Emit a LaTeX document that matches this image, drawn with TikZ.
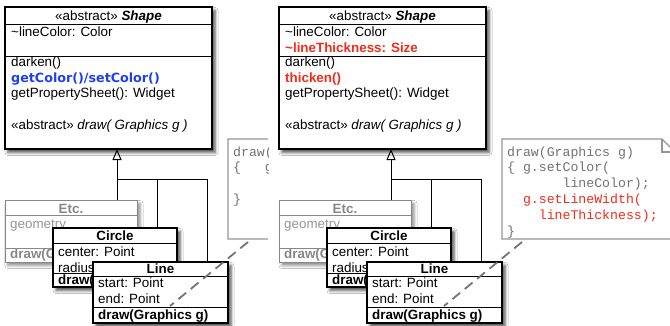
\documentclass[tikz,border=0pt]{standalone}
\usepackage{fontspec}
\setmainfont{Liberation Sans}
\newfontfamily\monof{Liberation Mono}
\newfontfamily\verd{DejaVu Sans}
\usetikzlibrary{arrows.meta,calc,shadows.blur}
\definecolor{umlblue}{RGB}{30,64,240}
\definecolor{umlred}{RGB}{240,45,25}
\definecolor{etcgray}{RGB}{135,135,135}
\definecolor{etclight}{RGB}{150,150,150}
\definecolor{notegray}{RGB}{150,150,150}
\definecolor{codegray}{RGB}{115,115,115}
\newcommand\fs{\fontsize{13.4}{15.5}\selectfont}
\newcommand\ms{\monof\fontsize{13.2}{15.8}\selectfont}
\newlength\cw
\setlength\cw{7.92pt}
\newcommand\ind[1]{\hspace*{#1\cw}}
\tikzset{
  umlbox/.style={draw=black, line width=1.2pt, fill=white, anchor=north west,
    inner sep=0pt, outer sep=0pt,
    blur shadow={shadow xshift=3pt, shadow yshift=-3.5pt, shadow blur radius=3pt, shadow opacity=70}},
  etcbox/.style={draw=etcgray, line width=1pt, fill=white, anchor=north west,
    inner sep=0pt, outer sep=0pt,
    blur shadow={shadow xshift=3pt, shadow yshift=-3.5pt, shadow blur radius=3pt, shadow opacity=45}},
  notebox/.style={draw=none, anchor=north west, inner sep=0pt, outer sep=0pt},
  noteline/.style={draw=notegray, line width=1.1pt, fill=white, line join=miter},
  sepl/.style={draw=black, line width=1pt},
  etcsep/.style={draw=etcgray, line width=1pt},
  txt/.style={anchor=base west, inner sep=0pt, font=\fs},
  ctxt/.style={anchor=base, inner sep=0pt, font=\fs},
  code/.style={anchor=base west, inner sep=0pt, font=\ms, text=codegray},
  conn/.style={draw=black, line width=1pt},
  inherit/.style={conn, -{Triangle[open, length=11pt, width=9pt, line width=1pt]}},
  dashl/.style={draw=codegray, line width=1.8pt, dash pattern=on 10pt off 6pt}
}
% #1 xshift, #2 prefix, #3 clip right edge (local), #4 2nd attribute, #5 2nd method, #6 note text
\newcommand\umlpanel[6]{%
\begin{scope}[xshift=#1pt, name prefix=#2-]
  \clip (-10,-10) rectangle (#3,340);
  % Shape
  \node[umlbox, minimum width=207pt, minimum height=142pt] (shape) at (5,7) {};
  \draw[sepl] (5,24) -- (212,24);
  \draw[sepl] (5,56) -- (212,56);
  \node[ctxt] (shapeT) at (108.5,20.5) {«abstract» \textbf{\textit{Shape}}};
  \node[txt] (a1) at (11,36.5) {\textasciitilde lineColor: Color};
  \node[txt] (a2) at (11,52) {#4};
  \node[txt] (m1) at (11,66.5) {darken()};
  \node[txt] (m2) at (11,82) {#5};
  \node[txt] (m3) at (11,97.5) {getPropertySheet(): Widget};
  \node[txt] (m4) at (11,129) {«abstract» \textit{draw( Graphics g )}};
  % connector junctions
  \coordinate (jn) at (117,179);
  \coordinate (j2) at (157,179);
  \coordinate (j3) at (207,179);
  % Etc
  \node[etcbox, minimum width=132pt, minimum height=62pt] (etc) at (5,200) {};
  \draw[etcsep] (5,215) -- (137,215);
  \draw[etcsep] (5,248) -- (137,248);
  \node[ctxt, text=etcgray] (etcT) at (71,213) {\textbf{Etc.}};
  \node[txt, text=etclight] (etcA) at (10,228) {geometry};
  \node[txt, text=etcgray] (etcM) at (10,258) {\textbf{draw(Graphics g)}};
  % Circle
  \node[umlbox, minimum width=124pt, minimum height=59pt] (circle) at (53,228) {};
  \draw[sepl] (53,243) -- (177,243);
  \draw[sepl] (53,273) -- (177,273);
  \node[ctxt] (circT) at (115,240) {\textbf{Circle}};
  \node[txt] (circA1) at (58,256.5) {center: Point};
  \node[txt] (circA2) at (58,272) {radius: int};
  \node[txt] (circM) at (58,284) {\textbf{draw(Graphics g)}};
  % Line
  \node[umlbox, minimum width=135pt, minimum height=61pt] (line) at (93,262) {};
  \draw[sepl] (93,276) -- (228,276);
  \draw[sepl] (93,307) -- (228,307);
  \node[ctxt] (lineT) at (160.5,273) {\textbf{Line}};
  \node[txt] (lineA1) at (98,287.5) {start: Point};
  \node[txt] (lineA2) at (98,303) {end: Point};
  \node[txt] (lineM) at (98,319) {\textbf{draw(Graphics g)}};
  % inheritance connectors
  \draw[inherit] (jn) -- (jn |- shape.south);
  \draw[conn] (jn |- etc.north) -- (jn) -- (j3) -- (j3 |- line.north);
  \draw[conn] (j2) -- (j2 |- circle.north);
  % note
  \node[notebox, minimum width=173pt, minimum height=100pt] (note) at (228,139) {};
  \draw[noteline] (note.north west) -- ($(note.north east)+(-13,0)$)
     -- ($(note.north east)+(0,13)$) -- (note.south east) -- (note.south west) -- cycle;
  \draw[noteline, fill=none] ($(note.north east)+(-13,0)$) -- ($(note.north east)+(-13,13)$)
     -- ($(note.north east)+(0,13)$);
  #6
  % dashed link note -- Line
  \coordinate (dl) at (170,306);
  \draw[dashl] ($(note.south west)+(20,3)$) -- (dl);
\end{scope}}

\begin{document}
\begin{tikzpicture}[x=1pt, y=-1pt]
\useasboundingbox (0,0) rectangle (670,325);
\clip (0,0) rectangle (670,325);
\fill[white] (0,0) rectangle (670,325);
\umlpanel{0}{L}{268}{}{{\verd\fontsize{12.7}{15.5}\selectfont\bfseries\color{umlblue}getColor()/setColor()}}{%
  \node[code] (c1) at (233,156) {draw(Graphics g)};
  \node[code] (c2) at (233,171.8) {\{\ind{3}g.setColor(};
  \node[code] (c3) at (233,187.6) {\ind{10}lineColor);};
  \node[code] (c4) at (233,203.4) {\}};
}
\umlpanel{274}{R}{400}{{\color{umlred}\bfseries\textasciitilde lineThickness: Size}}{{\color{umlred}\bfseries thicken()}}{%
  \node[code] (c1) at (233,156) {draw(Graphics g)};
  \node[code] (c2) at (233,171.8) {\{ g.setColor(};
  \node[code] (c3) at (233,187.6) {\ind{7}lineColor);};
  \node[code, text=umlred] (c4) at (233,203.4) {\ind{2}g.setLineWidth(};
  \node[code, text=umlred] (c5) at (233,219.2) {\ind{4}lineThickness);};
  \node[code] (c6) at (233,235) {\}};
}
\end{tikzpicture}
\end{document}
